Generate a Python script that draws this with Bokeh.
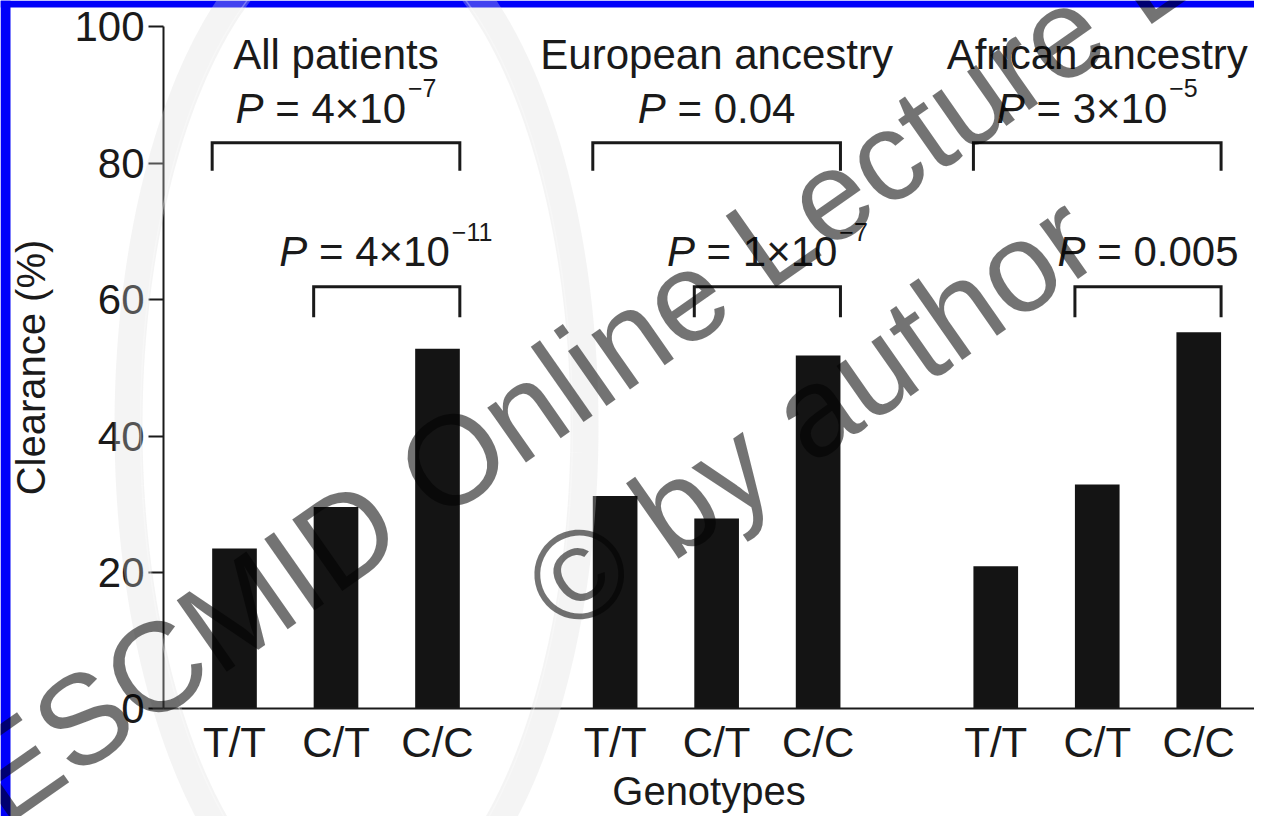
import math
import numpy as np
from bokeh.plotting import figure
from bokeh.models import ColumnDataSource, Range1d, FixedTicker, Label, PolyAnnotation
from bokeh.core.properties import value
from bokeh.embed import file_html
from bokeh.resources import INLINE

# ---------------- data ----------------
groups = ["All patients", "European ancestry", "African ancestry"]
genotypes = ["T/T", "C/T", "C/C"]
clearance_all = [23.5, 29.6, 52.8]
clearance_european = [31.2, 27.9, 51.8]
clearance_african = [20.9, 32.9, 55.2]
p_overall_base = ["4×10", "0.04", "3×10"]
p_overall_exp = ["−7", "", "−5"]
p_pair_base = ["4×10", "1×10", "0.005"]
p_pair_exp = ["−11", "−7", ""]
y_ticks = [0, 20, 40, 60, 80, 100]

# ---------------- layout / style ----------------
W, H = 1254, 816               # canvas (fits the window with the page margin)
ORIGIN_PX, UNIT_PX = 234.0, 101.5
BASE_PX, PX_PER_Y = 708.3, 6.82
X_START = -ORIGIN_PX / UNIT_PX
X_END = (W - ORIGIN_PX) / UNIT_PX
Y_START = -(H - BASE_PX) / PX_PER_Y
Y_END = BASE_PX / PX_PER_Y
AXIS_X = (163 - ORIGIN_PX) / UNIT_PX
GROUP_STEP = 3.75
BAR_W = 0.44
FONT = "Liberation Sans"
FS = 42
FS_EXP = 25
TEXT_DY = -14       # baseline correction for text glyphs (px)
INK = "#1a1a1a"
BLUE = "#0000fa"

TITLE_Y = 93.9
P_TOP_Y = 86.0
BR_TOP = 83.0
BR_TOP_LEG = 78.9
P_LOW_Y = 65.0
BR_LOW = 61.9
BR_LOW_LEG = 57.4


def to_data(rx, ry):
    rx = np.asarray(rx, dtype=float)
    ry = np.asarray(ry, dtype=float)
    return (rx - ORIGIN_PX) / UNIT_PX, (BASE_PX - ry) / PX_PER_Y


values = [clearance_all, clearance_european, clearance_african]
xs, tops, labels = [], [], []
for g, vals in enumerate(values):
    for i, v in enumerate(vals):
        xs.append(g * GROUP_STEP + i)
        tops.append(v)
        labels.append(genotypes[i])

p = figure(width=W, height=H, x_range=Range1d(X_START, X_END), y_range=Range1d(Y_START, Y_END),
           output_backend="svg", toolbar_location=None,
           min_border=0, min_border_left=0, min_border_right=0,
           min_border_top=0, min_border_bottom=0,
           background_fill_color="white", border_fill_color="white")
p.outline_line_color = None
p.xgrid.visible = False
p.ygrid.visible = False

# slide frame (blue edges)
bx0, by0 = to_data([0, 10], [0, H])
p.quad(left=[bx0[0]], right=[bx0[1]], bottom=[by0[1]], top=[by0[0]],
       fill_color=BLUE, line_color=None)
tx0, ty0 = to_data([0, W], [0, 7])
p.quad(left=[tx0[0]], right=[tx0[1]], bottom=[ty0[1]], top=[ty0[0]],
       fill_color=BLUE, line_color=None)

p.vbar(x=xs, top=tops, bottom=0, width=BAR_W, fill_color="#141414", line_color=None)

# axes at fixed locations (frame spans the whole canvas)
p.yaxis.fixed_location = AXIS_X
p.yaxis.bounds = (0, 100)
p.yaxis.ticker = FixedTicker(ticks=y_ticks)
p.yaxis.minor_tick_line_color = None
p.yaxis.major_tick_out = 15
p.yaxis.major_tick_in = 0
p.yaxis.major_label_standoff = 4
p.yaxis.axis_label = "Clearance (%)"
p.yaxis.axis_label_standoff = 18
p.yaxis.axis_label_text_font_size = "40px"

p.xaxis.fixed_location = 0
p.xaxis.bounds = (AXIS_X, X_END)
p.xaxis.ticker = FixedTicker(ticks=xs)
p.xaxis.major_label_overrides = {x: lab for x, lab in zip(xs, labels)}
p.xaxis.minor_tick_line_color = None
p.xaxis.major_tick_out = 0
p.xaxis.major_tick_in = 0
p.xaxis.major_label_standoff = 10
p.xaxis.axis_label = "Genotypes"
p.xaxis.axis_label_standoff = 0
p.xaxis.axis_label_text_font_size = "40px"

for ax in (p.xaxis[0], p.yaxis[0]):
    ax.axis_line_color = INK
    ax.axis_line_width = 2
    ax.major_tick_line_width = 2
    ax.major_label_text_font = FONT
    ax.major_label_text_font_size = "42px"
    ax.major_label_text_color = INK
    ax.axis_label_text_font = FONT
    ax.axis_label_text_font_style = "normal"
    ax.axis_label_text_color = INK
p.yaxis.major_tick_line_color = INK
p.xaxis.major_tick_line_color = None

# group titles
centers = [g * GROUP_STEP + 1 for g in range(3)]
p.text(x=centers, y=[TITLE_Y] * 3, text=groups, text_font=value(FONT),
       text_font_size=f"{FS}px", text_color=INK, text_align="center",
       text_baseline="alphabetic", y_offset=TEXT_DY)

# brackets
bxs, bys = [], []
for g in range(3):
    l = xs[3 * g] - BAR_W / 2
    r = xs[3 * g + 2] + BAR_W / 2
    bxs.append([l, l, r, r]); bys.append([BR_TOP_LEG, BR_TOP, BR_TOP, BR_TOP_LEG])
    l2 = xs[3 * g + 1] - BAR_W / 2
    bxs.append([l2, l2, r, r]); bys.append([BR_LOW_LEG, BR_LOW, BR_LOW, BR_LOW_LEG])
p.multi_line(xs=bxs, ys=bys, line_color=INK, line_width=3, line_join="miter")

# P-value labels (italic P, regular text, superscript exponent)
ADV = {' ': .278, '=': .584, '×': .584, '.': .278, '−': .584, 'P': .667}
def tw(s, fs):
    return sum(ADV.get(c, .556) for c in s) * fs

px_, py_, pxo = [], [], []
rx, ry, rt, rxo = [], [], [], []
ex, ey, et, exo = [], [], [], []
def add_p(cx, y, base, exp):
    rest = "= " + base
    wP = tw("P", FS) + tw(" ", FS)
    wR = tw(rest, FS)
    wE = tw(exp, FS_EXP) + (2 if exp else 0)
    left = -(wP + wR + wE) / 2
    px_.append(cx); py_.append(y); pxo.append(left)
    rx.append(cx); ry.append(y); rt.append(rest); rxo.append(left + wP)
    if exp:
        ex.append(cx); ey.append(y); et.append(exp); exo.append(left + wP + wR + 2)

for g in range(3):
    add_p(centers[g], P_TOP_Y, p_overall_base[g], p_overall_exp[g])
    add_p((xs[3 * g + 1] + xs[3 * g + 2]) / 2, P_LOW_Y, p_pair_base[g], p_pair_exp[g])

common = dict(text_font=value(FONT), text_color=INK, text_align="left", text_baseline="alphabetic")
p.text(source=ColumnDataSource(dict(x=px_, y=py_, t=["P"] * len(px_), xo=pxo)),
       x="x", y="y", text="t", x_offset="xo", y_offset=TEXT_DY, text_font_size=f"{FS}px",
       text_font_style="italic", **common)
p.text(source=ColumnDataSource(dict(x=rx, y=ry, t=rt, xo=rxo)),
       x="x", y="y", text="t", x_offset="xo", y_offset=TEXT_DY,
       text_font_size=f"{FS}px", **common)
p.text(source=ColumnDataSource(dict(x=ex, y=ey, t=et, xo=exo)),
       x="x", y="y", text="t", x_offset="xo", y_offset=TEXT_DY - 20,
       text_font_size=f"{FS_EXP}px", **common)

# ---------------- watermark ----------------
t = np.linspace(0, 2 * math.pi, 240)
ell_x, ell_y = to_data(356 + 228 * np.cos(t), 426 + 506 * np.sin(t))
p.add_layout(PolyAnnotation(xs=list(ell_x), ys=list(ell_y), xs_units="data", ys_units="data",
                            fill_color=None, line_color="#dcdcdc", line_width=28))
ell2_x, ell2_y = to_data(356 + 216 * np.cos(t), 426 + 494 * np.sin(t))
p.add_layout(PolyAnnotation(xs=list(ell2_x), ys=list(ell2_y), xs_units="data", ys_units="data",
                            fill_color=None, line_color="white", line_width=1.5))

ang = math.radians(35)
for (lx, ly), txt in [((707, 281), "ESCMID Online Lecture Library"), ((810, 412), "© by author")]:
    dx, dy = to_data(lx, ly)
    p.add_layout(Label(x=float(dx), y=float(dy), x_units="data", y_units="data", text=txt, angle=ang,
                       text_font=FONT, text_font_size="127px", text_color="black",
                       text_alpha=0.55, text_align="center", text_baseline="middle"))

open("out.html", "w").write(file_html(p, INLINE, title="Clearance by genotype"))
